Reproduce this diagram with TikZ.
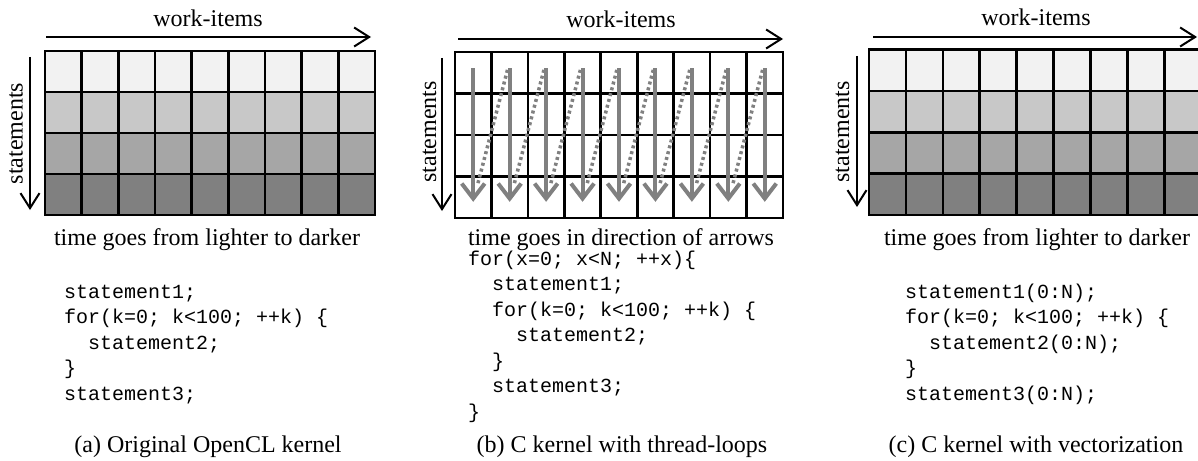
\documentclass[tikz,border=0pt]{standalone}
\usepackage{fontspec}
\setmainfont{Liberation Serif}
\setmonofont{Liberation Mono}
\usetikzlibrary{arrows.meta}
\definecolor{rowA}{HTML}{F2F2F2}
\definecolor{rowB}{HTML}{C8C8C8}
\definecolor{rowC}{HTML}{A6A6A6}
\definecolor{rowD}{HTML}{808080}
\definecolor{arrgray}{HTML}{808080}
\tikzset{
  lbl/.style={inner sep=0pt, anchor=base, font=\fontsize{24}{28}\selectfont},
  code/.style={inner sep=0pt, anchor=base west, font=\fontsize{20}{25}\selectfont\ttfamily},
  axis/.style={line width=2pt, -{Straight Barb[length=15pt,width=19pt]}},
  gridline/.style={line width=2.6pt, line cap=rect},
  flow/.style={arrgray, line width=4pt, -{Straight Barb[length=15pt,width=23pt]}},
  jump/.style={arrgray, line width=3.5pt, dash pattern=on 3pt off 3pt},
}
\begin{document}
\begin{tikzpicture}[x=1pt,y=-1pt]
\useasboundingbox (0,0) rectangle (1198,460);
\clip (0,0) rectangle (1198,460);

% ---------- panel (a) ----------
\begin{scope}[shift={(45,51)}, x=36.667pt, y=-41pt]
  \fill[rowA] (0,0) rectangle (9,1);
  \fill[rowB] (0,1) rectangle (9,2);
  \fill[rowC] (0,2) rectangle (9,3);
  \fill[rowD] (0,3) rectangle (9,4);
  \foreach \i in {0,...,9} \draw[gridline] (\i,0) -- (\i,4);
  \foreach \j in {0,...,4} \draw[gridline] (0,\j) -- (9,\j);
\end{scope}
\coordinate (wa0) at (46,37); \coordinate (wa1) at (371,37);
\coordinate (sa0) at (30,57); \coordinate (sa1) at (30,210);
\draw[axis] (wa0) -- (wa1);
\draw[axis] (sa0) -- (sa1);
\node[lbl] (wa) at (208,27) {work-items};
\node[lbl, rotate=90] (sa) at (22.7,133.5) {statements};
\node[lbl] (ta) at (207,245) {time goes from lighter to darker};
\node[code] (a1) at (64,298) {statement1;};
\node[code] (a2) at (64,323.5) {for(k=0; k<100; ++k) \{};
\node[code] (a3) at (88,349) {statement2;};
\node[code] (a4) at (64,374.5) {\}};
\node[code] (a5) at (64,400) {statement3;};
\node[lbl] (capa) at (208,452) {(a) Original OpenCL kernel};

% ---------- panel (b) ----------
\begin{scope}[shift={(455,52)}, x=36.444pt, y=-41.5pt]
  \fill[white] (0,0) rectangle (9,4);
  \foreach \i in {0,...,9} \draw[gridline] (\i,0) -- (\i,4);
  \foreach \j in {0,...,4} \draw[gridline] (0,\j) -- (9,\j);
  \foreach \i in {0,...,8} {
    \draw[flow] (\i+0.5,0.386) -- (\i+0.5,3.61);
  }
  \foreach \i in {0,...,7} {
    \draw[jump] (\i+0.63,3.16) -- (\i+1.45,0.40);
  }
\end{scope}
\coordinate (wb0) at (458,39); \coordinate (wb1) at (783,39);
\coordinate (sb0) at (442,58); \coordinate (sb1) at (442,211);
\draw[axis] (wb0) -- (wb1);
\draw[axis] (sb0) -- (sb1);
\node[lbl] (wb) at (621,28) {work-items};
\node[lbl, rotate=90] (sb) at (436,132) {statements};
\node[lbl] (tb) at (621,245) {time goes in direction of arrows};
\node[code] (b1) at (468,265) {for(x=0; x<N; ++x)\{};
\node[code] (b2) at (492,290.5) {statement1;};
\node[code] (b3) at (492,316) {for(k=0; k<100; ++k) \{};
\node[code] (b4) at (516,341.5) {statement2;};
\node[code] (b5) at (492,367) {\}};
\node[code] (b6) at (492,392.5) {statement3;};
\node[code] (b7) at (468,418) {\}};
\node[lbl] (capb) at (622,452) {(b) C kernel with thread-loops};

% ---------- panel (c) ----------
\begin{scope}[shift={(869,49.5)}, x=36.9pt, y=-41.4pt]
  \fill[rowA] (0,0) rectangle (9,1);
  \fill[rowB] (0,1) rectangle (9,2);
  \fill[rowC] (0,2) rectangle (9,3);
  \fill[rowD] (0,3) rectangle (9,4);
  \foreach \i in {0,...,9} \draw[gridline] (\i,0) -- (\i,4);
  \foreach \j in {0,...,4} \draw[gridline] (0,\j) -- (9,\j);
\end{scope}
\coordinate (wc0) at (873,37); \coordinate (wc1) at (1197,37);
\coordinate (sc0) at (857,56); \coordinate (sc1) at (857,207);
\draw[axis] (wc0) -- (wc1);
\draw[axis] (sc0) -- (sc1);
\node[lbl] (wc) at (1036,26) {work-items};
\node[lbl, rotate=90] (sc) at (849,132) {statements};
\node[lbl] (tc) at (1037,245) {time goes from lighter to darker};
\node[code] (c1) at (905,298) {statement1(0:N);};
\node[code] (c2) at (905,323.5) {for(k=0; k<100; ++k) \{};
\node[code] (c3) at (929,349) {statement2(0:N);};
\node[code] (c4) at (905,374.5) {\}};
\node[code] (c5) at (905,400) {statement3(0:N);};
\node[lbl] (capc) at (1036,452) {(c) C kernel with vectorization};
\end{tikzpicture}
\end{document}
